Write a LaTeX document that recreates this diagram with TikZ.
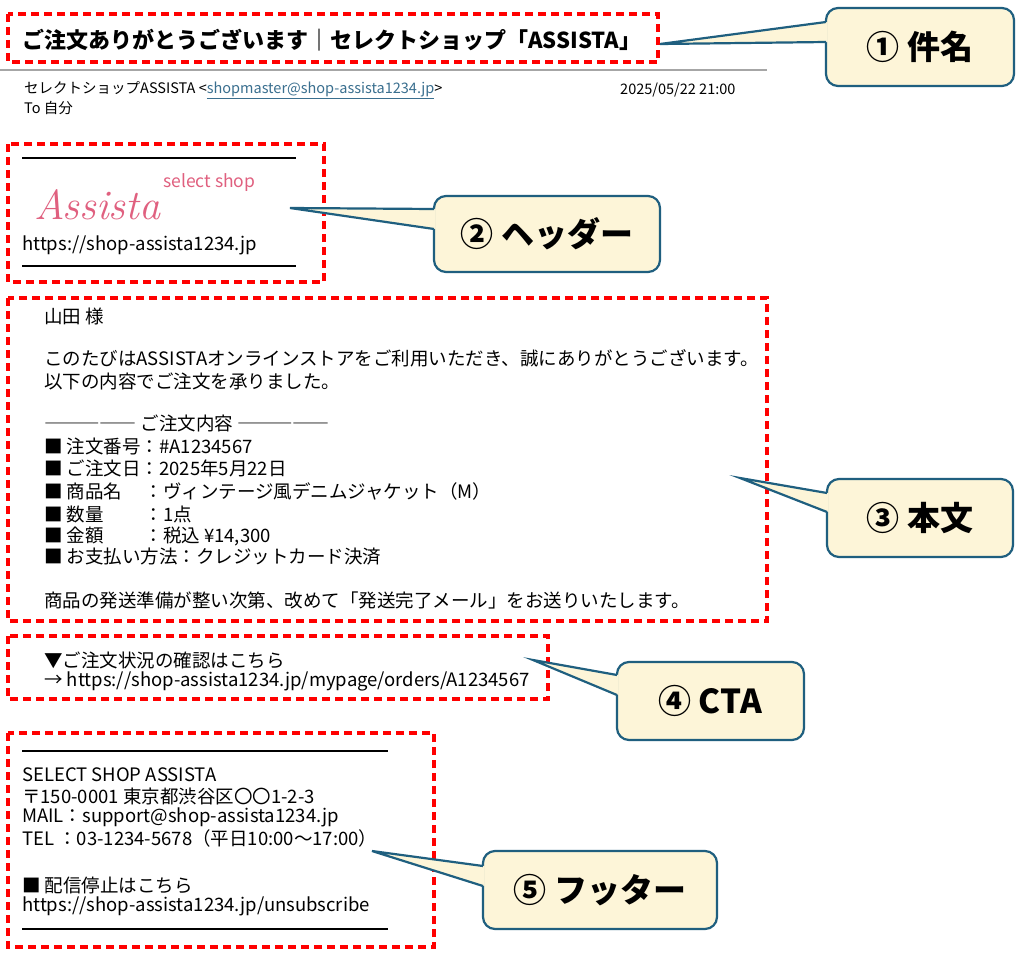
\documentclass[tikz,border=0pt]{standalone}
\usepackage{fontspec}
\setmainfont{Noto Sans CJK JP}
\newfontfamily\scriptf{Latin Modern Roman}
\usetikzlibrary{calc}
\definecolor{redd}{HTML}{FF0000}
\definecolor{cfill}{HTML}{FDF5D8}
\definecolor{cline}{HTML}{1F5F7F}
\definecolor{pinkk}{HTML}{E0607F}
\definecolor{linkc}{HTML}{3A6F8F}
\tikzset{
 secbox/.style={draw=redd,line width=3.3pt,dash pattern=on 8pt off 5pt},
 callbox/.style={draw=cline,fill=cfill,line width=2.2pt,rounded corners=12pt},
 calltxt/.style={font=\fontsize{33}{33}\selectfont\bfseries,anchor=center},
 tx/.style={anchor=west,inner sep=0pt,font=\fontsize{18.5}{18.5}\selectfont},
 sep/.style={line width=2.4pt},
}
\newcommand{\callout}[8]{%
 \draw[callbox] (#1,#2) rectangle (#3,#4);
 \fill[cfill] (#1+1.5,#7) -- (#5,#6) -- (#1+1.5,#8) -- cycle;
 \draw[cline,line width=2.2pt,line join=miter] (#1,#7) -- (#5,#6) -- (#1,#8);
}
\begin{document}
\begin{tikzpicture}[x=1pt,y=-1pt]
\useasboundingbox (0,0) rectangle (1024,958);
\fill[white] (0,0) rectangle (1024,958);
% title
\node[tx,font=\fontsize{22}{22}\selectfont\bfseries] (title) at (22,40) {ご注文ありがとうございます｜セレクトショップ「ASSISTA」};
\draw[secbox] (8,14) rectangle (658,62);
\draw[gray!70,line width=1.4pt] (0,70) -- (767,70);
\node[tx,font=\fontsize{14.5}{15}\selectfont] (from) at (24,90) {セレクトショップASSISTA <\textcolor{linkc}{\underline{shopmaster@shop-assista1234.jp}}>};
\node[tx,font=\fontsize{14.5}{15}\selectfont] (date) at (620,90) {2025/05/22 21:00};
\node[tx,font=\fontsize{14.5}{15}\selectfont] (to) at (24,108) {To 自分};
% header
\draw[sep] (22,158) -- (296,158);
\node[tx,text=pinkk,font=\fontsize{17.5}{17.5}\selectfont] (sel) at (163,183) {select shop};
\node[tx,text=pinkk,font=\fontsize{42}{42}\selectfont\scriptf\itshape] (logo) at (34,205) {Assista};
\node[tx] (url) at (22,245) {https://shop-assista1234.jp};
\draw[sep] (22,266) -- (296,266);
\draw[secbox] (8,144) rectangle (324,282);
% body
\node[tx] (b1) at (44,316) {山田 様};
\node[tx] (b2) at (44,358) {このたびはASSISTAオンラインストアをご利用いただき、誠にありがとうございます。};
\node[tx] (b3) at (44,381) {以下の内容でご注文を承りました。};
\node[tx] (b4) at (44,423) {――――― ご注文内容 ―――――};
\node[tx] (b5) at (44,446) {■ 注文番号：\#A1234567};
\node[tx] (b6) at (44,468) {■ ご注文日：2025年5月22日};
\node[tx] (b7) at (44,491) {■ 商品名\hspace{1.2em}：ヴィンテージ風デニムジャケット（M）};
\node[tx] (b8) at (44,514) {■ 数量\hspace{2.2em}：1点};
\node[tx] (b9) at (44,536) {■ 金額\hspace{2.2em}：税込 ¥14,300};
\node[tx] (b10) at (44,557) {■ お支払い方法：クレジットカード決済};
\node[tx] (b11) at (44,600) {商品の発送準備が整い次第、改めて「発送完了メール」をお送りいたします。};
\draw[secbox] (8,298) rectangle (767,621);
% CTA
\node[tx] (c1) at (44,660) {▼ご注文状況の確認はこちら};
\node[tx] (c2) at (44,681) {→ https://shop-assista1234.jp/mypage/orders/A1234567};
\draw[secbox] (8,636) rectangle (548,699);
% footer
\draw[sep] (22,751) -- (388,751);
\node[tx] (f1) at (22,775) {SELECT SHOP ASSISTA};
\node[tx] (f2) at (22,796) {〒150-0001 東京都渋谷区〇〇1-2-3};
\node[tx] (f3) at (22,817) {MAIL：support@shop-assista1234.jp};
\node[tx] (f4) at (22,838) {TEL ：03-1234-5678（平日10:00〜17:00）};
\node[tx] (f5) at (22,885) {■ 配信停止はこちら};
\node[tx] (f6) at (22,906) {https://shop-assista1234.jp/unsubscribe};
\draw[sep] (22,929) -- (388,929);
\draw[secbox] (8,733) rectangle (434,947);
% callouts
\callout{826}{8}{1014}{86}{660}{44}{22}{42}
\node[calltxt] (k1) at (920,47) {① 件名};
\callout{434}{196}{660}{272}{290}{208}{209}{229}
\node[calltxt] (k2) at (547,234) {② ヘッダー};
\callout{827}{479}{1013}{557}{740}{478}{493}{512}
\node[calltxt] (k3) at (920,518) {③ 本文};
\callout{617}{662}{804}{740}{533}{660}{675}{695}
\node[calltxt] (k4) at (710,701) {④ CTA};
\callout{483}{851}{717}{929}{372}{851}{866}{886}
\node[calltxt] (k5) at (600,890) {⑤ フッター};
\end{tikzpicture}
\end{document}
